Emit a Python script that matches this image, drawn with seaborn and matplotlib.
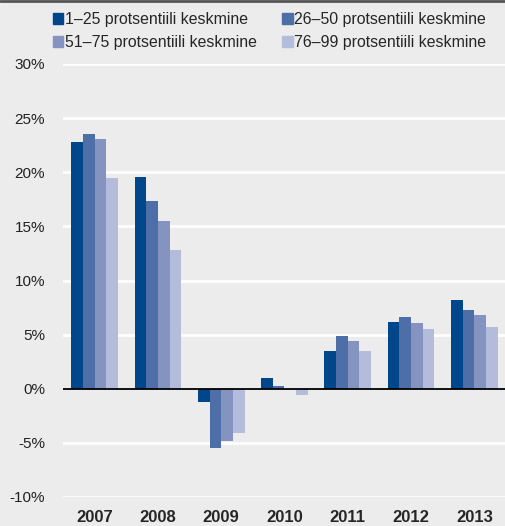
import matplotlib
matplotlib.use("Agg")
import matplotlib.pyplot as plt
import matplotlib.patches as mpatches
import seaborn as sns
import pandas as pd

years = ["2007", "2008", "2009", "2010", "2011", "2012", "2013"]
groups = ["1–25 protsentiili keskmine", "26–50 protsentiili keskmine",
          "51–75 protsentiili keskmine", "76–99 protsentiili keskmine"]
p1_25 = [22.8, 19.6, -1.2, 1.0, 3.5, 6.2, 8.2]
p26_50 = [23.5, 17.3, -5.5, 0.3, 4.9, 6.6, 7.3]
p51_75 = [23.1, 15.5, -4.8, 0.0, 4.4, 6.1, 6.8]
p76_99 = [19.5, 12.8, -4.1, -0.6, 3.5, 5.5, 5.7]
colors = ["#00468a", "#4e6ea7", "#8493c0", "#b3bcda"]

rows = []
for g, vals in zip(groups, [p1_25, p26_50, p51_75, p76_99]):
    for y, v in zip(years, vals):
        rows.append({"year": y, "group": g, "value": v})
df = pd.DataFrame(rows)

sns.set_style("white")
plt.rcParams["font.family"] = ["Liberation Sans", "DejaVu Sans"]
bg = "#ebeceb"

fig = plt.figure(figsize=(5.06, 5.26), dpi=100, facecolor=bg)
ax = fig.add_axes([63 / 506, 29 / 526, 1 - 63 / 506, (497 - 64) / 526])
ax.set_facecolor(bg)

sns.barplot(data=df, x="year", y="value", hue="group", hue_order=groups,
            palette=colors, width=0.74, edgecolor="none", saturation=1,
            legend=False, ax=ax, zorder=3)

ax.set_ylim(-10, 30)
ax.set_xlim(-0.5, 6.5)
ax.set_yticks(range(-10, 31, 5))
ax.set_yticklabels([f"{t}%" for t in range(-10, 31, 5)])
for t in range(-10, 31, 5):
    if t != 0:
        ax.axhline(t, color="white", lw=2, zorder=1)
ax.axhline(0, color="black", lw=1.3, zorder=4)
ax.set_xlabel("")
ax.set_ylabel("")
for s in ax.spines.values():
    s.set_visible(False)
ax.tick_params(axis="y", length=0, pad=13, labelsize=11, labelcolor="#222222")
ax.tick_params(axis="x", length=0, pad=9, labelsize=12)
for lbl in ax.get_xticklabels():
    lbl.set_fontweight("bold")

# legend fills column-wise, so reorder to read row-wise
order = [0, 2, 1, 3]
handles = [mpatches.Patch(color=colors[i], label=groups[i]) for i in order]
fig.legend(handles=handles, ncol=2, loc="upper left",
           bbox_to_anchor=(50 / 506, 1 - 9 / 526), frameon=False,
           fontsize=11.4, handlelength=0.65, handleheight=0.65,
           handletextpad=0.1, columnspacing=1.6, labelspacing=0.5,
           borderaxespad=0, borderpad=0.2)

fig.add_artist(plt.Line2D([0, 1], [1 - 1 / 526, 1 - 1 / 526],
                          transform=fig.transFigure, color="#555555", lw=2))

fig.savefig("out.png", dpi=100, facecolor=bg)
